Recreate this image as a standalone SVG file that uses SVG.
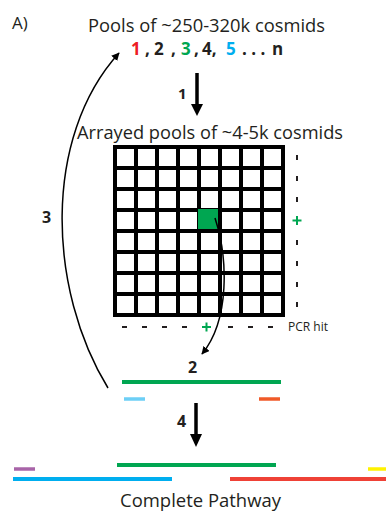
<svg xmlns="http://www.w3.org/2000/svg" width="386" height="513" viewBox="0 0 386 513">
  <style>
    .txt { font-family: "Open Sans", "Liberation Sans", sans-serif; fill: #231f20; }
    .num { font-family: "Open Sans", "Liberation Sans", sans-serif; font-weight: bold; fill: #231f20; }
    .grid line { stroke: #000; stroke-width: 4; }
    .dash { fill: #231f20; }
    .plus { stroke: #00a651; stroke-width: 2; }
    .curve { fill: none; stroke: #000; stroke-width: 1.5; }
    .seg { stroke-width: 4; }
    .small { stroke-width: 3.5; }
  </style>
  <defs>
    <marker id="head" viewBox="0 0 10 10" refX="9" refY="5" markerWidth="8" markerHeight="8" markerUnits="userSpaceOnUse" orient="auto">
      <path d="M0,0 L10,5 L0,10 Z" fill="#000"/>
    </marker>
  </defs>

  <!-- panel label -->
  <text id="panel-label" class="txt" x="12" y="29" font-size="17">A)</text>

  <!-- pools of cosmids -->
  <g id="pools">
    <text class="txt" x="88" y="32" font-size="18" textLength="237" lengthAdjust="spacingAndGlyphs">Pools of ~250-320k cosmids</text>
    <text class="num" y="55" font-size="17">
      <tspan x="131" fill="#ed1c24">1</tspan>
      <tspan x="145">,</tspan>
      <tspan x="154">2</tspan>
      <tspan x="171">,</tspan>
      <tspan x="181" fill="#00a651">3</tspan>
      <tspan x="194">,</tspan>
      <tspan x="202">4,</tspan>
      <tspan x="226" fill="#00aeef">5</tspan>
      <tspan x="242">. . .</tspan>
      <tspan x="272">n</tspan>
    </text>
  </g>

  <!-- arrayed pools grid -->
  <g id="arrayed">
    <text class="txt" x="77" y="139" font-size="18" textLength="266" lengthAdjust="spacingAndGlyphs">Arrayed pools of ~4-5k cosmids</text>
    <rect x="113" y="145" width="172" height="172" fill="#fff"/>
    <g class="grid">
      <line x1="115" y1="145" x2="115" y2="317"/>
      <line x1="136" y1="145" x2="136" y2="317"/>
      <line x1="157" y1="145" x2="157" y2="317"/>
      <line x1="178" y1="145" x2="178" y2="317"/>
      <line x1="199" y1="145" x2="199" y2="317"/>
      <line x1="220" y1="145" x2="220" y2="317"/>
      <line x1="241" y1="145" x2="241" y2="317"/>
      <line x1="262" y1="145" x2="262" y2="317"/>
      <line x1="283" y1="145" x2="283" y2="317"/>
      <line x1="113" y1="147" x2="285" y2="147"/>
      <line x1="113" y1="168" x2="285" y2="168"/>
      <line x1="113" y1="189" x2="285" y2="189"/>
      <line x1="113" y1="210" x2="285" y2="210"/>
      <line x1="113" y1="231" x2="285" y2="231"/>
      <line x1="113" y1="252" x2="285" y2="252"/>
      <line x1="113" y1="273" x2="285" y2="273"/>
      <line x1="113" y1="294" x2="285" y2="294"/>
      <line x1="113" y1="315" x2="285" y2="315"/>
    </g>
    <!-- positive well -->
    <rect x="198" y="209" width="20" height="20" fill="#00a651"/>
  </g>

  <!-- PCR screen markers -->
  <g id="pcr-markers">
    <rect class="dash" x="296" y="155" width="2" height="5"/>
    <rect class="dash" x="296" y="176" width="2" height="5"/>
    <rect class="dash" x="296" y="197" width="2" height="5"/>
    <line class="plus" x1="292.5" y1="220.5" x2="301.5" y2="220.5"/>
    <line class="plus" x1="297" y1="216" x2="297" y2="225"/>
    <rect class="dash" x="296" y="240" width="2" height="5"/>
    <rect class="dash" x="296" y="261" width="2" height="5"/>
    <rect class="dash" x="296" y="282" width="2" height="5"/>
    <rect class="dash" x="296" y="302" width="2" height="5"/>

    <rect class="dash" x="122" y="326" width="5" height="2"/>
    <rect class="dash" x="142" y="326" width="5" height="2"/>
    <rect class="dash" x="162" y="326" width="5" height="2"/>
    <rect class="dash" x="182" y="326" width="5" height="2"/>
    <line class="plus" x1="202" y1="327" x2="211" y2="327"/>
    <line class="plus" x1="206.5" y1="322.5" x2="206.5" y2="331.5"/>
    <rect class="dash" x="228" y="326" width="5" height="2"/>
    <rect class="dash" x="248" y="326" width="5" height="2"/>
    <rect class="dash" x="268" y="326" width="5" height="2"/>
    <text class="txt" x="288" y="331" font-size="13" textLength="40" lengthAdjust="spacingAndGlyphs">PCR hit</text>
  </g>

  <!-- contig from a single positive well -->
  <g id="hit-contig">
    <line class="seg" x1="122" y1="382" x2="281" y2="382" stroke="#00a651"/>
    <line class="small" x1="124" y1="399" x2="145" y2="399" stroke="#6dcff6"/>
    <line class="small" x1="259" y1="399" x2="280" y2="399" stroke="#f05a28"/>
  </g>

  <!-- assembled pathway -->
  <g id="pathway">
    <line class="seg" x1="117" y1="465" x2="276" y2="465" stroke="#00a651"/>
    <line class="small" x1="14" y1="469" x2="35" y2="469" stroke="#a864a8"/>
    <line class="seg" x1="13" y1="479" x2="172" y2="479" stroke="#00aeef"/>
    <line class="seg" x1="230" y1="479" x2="386" y2="479" stroke="#ef4136"/>
    <line class="small" x1="368" y1="469" x2="386" y2="469" stroke="#fff200"/>
    <text class="txt" x="120" y="507" font-size="18" textLength="161" lengthAdjust="spacingAndGlyphs">Complete Pathway</text>
  </g>

  <!-- connectors -->
  <g id="connectors">
    <!-- step 1 -->
    <line x1="197" y1="73" x2="197" y2="106" stroke="#000" stroke-width="3.5"/>
    <path d="M191,104 L203,104 L197,116 Z" fill="#000"/>
    <!-- step 4 -->
    <line x1="196" y1="403" x2="196" y2="436" stroke="#000" stroke-width="3.5"/>
    <path d="M190,434 L202,434 L196,447 Z" fill="#000"/>
    <!-- step 2 -->
    <path class="curve" d="M215,218 C228,258 230,320 202,354" marker-end="url(#head)"/>
    <!-- step 3 -->
    <path class="curve" d="M108,388 C48,290 42,138 119,53" marker-end="url(#head)"/>
    <text class="num" x="178" y="99" font-size="15">1</text>
    <text class="num" x="188" y="373" font-size="16">2</text>
    <text class="num" x="42" y="223" font-size="16">3</text>
    <text class="num" x="177" y="427" font-size="16">4</text>
  </g>
</svg>
